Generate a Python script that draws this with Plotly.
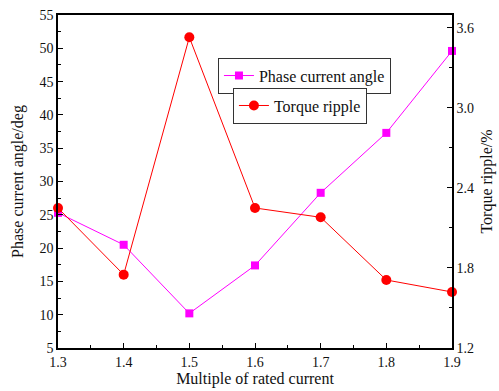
import plotly.graph_objects as go

# Multiple of rated current
multiple = [1.3, 1.4, 1.5, 1.6, 1.7, 1.8, 1.9]
# Phase current angle (deg), left axis
phase_angle = [25.3, 20.5, 10.2, 17.4, 28.3, 37.3, 49.6]
# Torque ripple (%), right axis
torque_ripple = [2.25, 1.75, 3.53, 2.25, 2.18, 1.71, 1.62]

left_ticks = [5, 10, 15, 20, 25, 30, 35, 40, 45, 50, 55]
right_ticks = [1.2, 1.8, 2.4, 3.0, 3.6]
x_ticks = [1.3, 1.4, 1.5, 1.6, 1.7, 1.8, 1.9]

serif = "Liberation Serif"
ink = "#111"

fig = go.Figure()
fig.add_trace(go.Scatter(
    x=multiple, y=phase_angle, name="Phase current angle",
    mode="lines+markers",
    line=dict(color="#ff00ff", width=1),
    marker=dict(symbol="square", size=8, color="#ff00ff"),
    legend="legend", cliponaxis=False,
))
fig.add_trace(go.Scatter(
    x=multiple, y=torque_ripple, name="Torque ripple",
    mode="lines+markers", yaxis="y2",
    line=dict(color="#ff0000", width=1),
    marker=dict(symbol="circle", size=10, color="#ff0000"),
    legend="legend2", cliponaxis=False,
))

axis_common = dict(
    showgrid=False, zeroline=False, showline=True, linecolor="black", linewidth=1.5,
    ticks="inside", ticklen=5, tickwidth=1, tickcolor="black",
    tickfont=dict(family=serif, size=14, color=ink), automargin=False,
)

legend_style = dict(
    xanchor="left", yanchor="top",
    bordercolor="#333", borderwidth=1, bgcolor="white",
    font=dict(family=serif, size=16, color=ink),
    itemwidth=30, tracegroupgap=0, visible=True,
)

fig.update_layout(
    width=499, height=391,
    margin=dict(l=58, r=47, t=15, b=43),
    paper_bgcolor="white", plot_bgcolor="white",
    font=dict(family=serif, color=ink),
    showlegend=True,
    xaxis=dict(
        **axis_common, range=[1.3, 1.9], tickvals=x_ticks,
        ticktext=[f"{v:.1f}" for v in x_ticks], mirror=True,
        minor=dict(ticks="inside", ticklen=3, dtick=0.05, tickcolor="black"),
        title=dict(text="Multiple of rated current", font=dict(family=serif, size=16, color=ink), standoff=4),
    ),
    yaxis=dict(
        **axis_common, range=[5, 55], tickvals=left_ticks,
        minor=dict(ticks="inside", ticklen=3, dtick=2.5, tickcolor="black"),
        title=dict(text="Phase current angle/deg", font=dict(family=serif, size=16, color=ink), standoff=12),
    ),
    yaxis2=dict(
        **axis_common, overlaying="y", side="right", range=[1.2, 3.697],
        tickvals=right_ticks, ticktext=[f"{v:.1f}" for v in right_ticks],
        minor=dict(ticks="inside", ticklen=3, tick0=1.2, dtick=0.3, tickcolor="black"),
        title=dict(text="Torque ripple/%", font=dict(family=serif, size=16, color=ink), standoff=8),
    ),
    legend=dict(x=0.406, y=0.872, **legend_style),
    legend2=dict(x=0.444, y=0.782, **legend_style),
)

fig.write_html("out.html")
